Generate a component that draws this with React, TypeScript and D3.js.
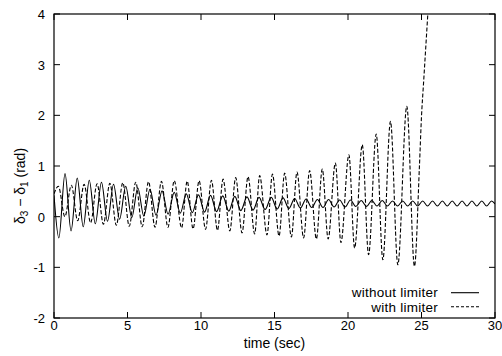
import React from "react";
import * as d3 from "d3";

const W = 502;
const H = 356;

const xTicks = [0, 5, 10, 15, 20, 25, 30];
const yTicks = [-2, -1, 0, 1, 2, 3, 4];

const seriesNames = ["without limiter", "with limiter"];

// "without limiter" (solid): start, peaks, troughs, end
const solidStart: [number, number] = [0, 0.42];
const solidEnd: [number, number] = [30, 0.25];
const solidPeakT = [0.75, 1.58, 2.40, 3.23, 4.05, 4.88, 5.70, 6.53, 7.35, 8.18, 9.00, 9.83, 10.65, 11.48, 12.30, 13.13, 13.95, 14.78, 15.58, 16.37, 17.15, 17.92, 18.68, 19.43, 20.17, 20.90, 21.62, 22.33, 23.03, 23.72, 24.40, 25.08, 25.75, 26.42, 27.09, 27.76, 28.43, 29.10, 29.77];
const solidPeakV = [0.85, 0.76, 0.72, 0.68, 0.64, 0.60, 0.57, 0.54, 0.51, 0.48, 0.45, 0.43, 0.42, 0.41, 0.40, 0.39, 0.38, 0.38, 0.37, 0.36, 0.35, 0.34, 0.34, 0.33, 0.33, 0.32, 0.32, 0.32, 0.31, 0.31, 0.31, 0.31, 0.31, 0.31, 0.31, 0.31, 0.31, 0.31, 0.31];
const solidTroughT = [0.33, 1.16, 1.99, 2.81, 3.64, 4.46, 5.29, 6.11, 6.94, 7.76, 8.59, 9.41, 10.24, 11.06, 11.89, 12.71, 13.54, 14.36, 15.18, 15.98, 16.76, 17.53, 18.30, 19.05, 19.80, 20.53, 21.26, 21.97, 22.68, 23.37, 24.06, 24.74, 25.41, 26.08, 26.75, 27.42, 28.09, 28.76, 29.43];
const solidTroughV = [-0.42, -0.28, -0.20, -0.14, -0.09, -0.05, -0.02, 0.01, 0.03, 0.05, 0.07, 0.08, 0.09, 0.10, 0.11, 0.12, 0.13, 0.14, 0.15, 0.16, 0.17, 0.18, 0.18, 0.19, 0.19, 0.20, 0.20, 0.21, 0.21, 0.21, 0.21, 0.21, 0.21, 0.21, 0.21, 0.21, 0.21, 0.21, 0.21];

// "with limiter" (dashed): start, peaks, troughs, final divergence
const dashStart: [number, number] = [0, 0.45];
const dashPeakT = [0.30, 1.18, 2.05, 2.93, 3.80, 4.68, 5.56, 6.43, 7.31, 8.18, 9.06, 9.87, 10.71, 11.50, 12.36, 13.20, 13.99, 14.86, 15.69, 16.53, 17.39, 18.25, 19.14, 20.06, 20.97, 21.92, 22.89, 24.00];
const dashPeakV = [0.60, 0.62, 0.64, 0.65, 0.66, 0.67, 0.68, 0.69, 0.70, 0.71, 0.70, 0.71, 0.72, 0.74, 0.77, 0.79, 0.81, 0.84, 0.86, 0.88, 0.91, 0.94, 1.06, 1.22, 1.42, 1.63, 1.88, 2.18];
const dashTroughT = [0.74, 1.61, 2.49, 3.36, 4.24, 5.12, 6.00, 6.87, 7.75, 8.68, 9.46, 10.31, 11.12, 11.96, 12.79, 13.65, 14.49, 15.31, 16.15, 16.98, 17.85, 18.65, 19.52, 20.45, 21.40, 22.37, 23.39, 24.52];
const dashTroughV = [0.00, -0.08, -0.12, -0.15, -0.17, -0.19, -0.20, -0.21, -0.21, -0.22, -0.24, -0.25, -0.27, -0.28, -0.32, -0.34, -0.36, -0.38, -0.40, -0.42, -0.44, -0.44, -0.51, -0.62, -0.75, -0.85, -0.95, -0.98];
const dashTailT = [24.86, 25.0, 25.14, 25.43, 25.6];
const dashTailV = [1.0, 1.98, 2.64, 4.0, 4.8];

function zip(t: number[], v: number[]): [number, number][] {
  return t.map((tt, i) => [tt, v[i]] as [number, number]);
}

const solidPts = [solidStart, ...zip(solidPeakT, solidPeakV), ...zip(solidTroughT, solidTroughV), solidEnd].sort((a, b) => a[0] - b[0]);
const dashPts = [dashStart, ...zip(dashPeakT, dashPeakV), ...zip(dashTroughT, dashTroughV), ...zip(dashTailT, dashTailV)].sort((a, b) => a[0] - b[0]);

const L = 54, R = 495, T = 14, B = 318;

export default function App() {
  const x = d3.scaleLinear().domain([0, 30]).range([L, R]);
  const y = d3.scaleLinear().domain([-2, 4]).range([B, T]);
  const line = d3
    .line<[number, number]>()
    .x((d) => x(d[0]))
    .y((d) => y(d[1]))
    .curve(d3.curveMonotoneX);
  const font = "'Liberation Sans', Arial, Helvetica, sans-serif";
  const tk = 6;
  return (
    <svg
      width={W}
      height={H}
      style={{ position: "absolute", left: 0, top: 0, background: "#fff" }}
      fontFamily={font}
      fontSize={13}
    >
      <rect x={0} y={0} width={W} height={H} fill="#fff" />
      <defs>
        <clipPath id="plot">
          <rect x={L} y={T} width={R - L} height={B - T} />
        </clipPath>
      </defs>
      {xTicks.map((t) => (
        <g key={"x" + t}>
          <line x1={x(t)} x2={x(t)} y1={B} y2={B - tk} stroke="#000" />
          <line x1={x(t)} x2={x(t)} y1={T} y2={T + tk} stroke="#000" />
          <text x={x(t)} y={330} textAnchor="middle" fill="#000">
            {t}
          </text>
        </g>
      ))}
      {yTicks.map((v) => (
        <g key={"y" + v}>
          <line x1={L} x2={L + tk} y1={y(v)} y2={y(v)} stroke="#000" />
          <line x1={R} x2={R - tk} y1={y(v)} y2={y(v)} stroke="#000" />
          <text x={45} y={y(v) + 5} textAnchor="end" fill="#000">
            {v}
          </text>
        </g>
      ))}
      <g clipPath="url(#plot)" fill="none">
        <path d={line(solidPts) || ""} stroke="#000" strokeWidth={1.1} />
        <path d={line(dashPts) || ""} stroke="#000" strokeWidth={1.1} strokeDasharray="4,2" />
      </g>
      <rect x={L} y={T} width={R - L} height={B - T} fill="none" stroke="#000" strokeWidth={1.2} />
      <text x={(L + R) / 2} y={348} textAnchor="middle" fill="#000" fontSize={14}>
        time (sec)
      </text>
      <text transform="translate(25,186) rotate(-90)" textAnchor="middle" fill="#000" fontSize={14}>
        δ<tspan fontSize={10} dy={3}>3</tspan>
        <tspan dy={-3}> − δ</tspan>
        <tspan fontSize={10} dy={3}>1</tspan>
        <tspan dy={-3}> (rad)</tspan>
      </text>
      <text x={438} y={297} textAnchor="end" fill="#000" fontSize={13.5} letterSpacing={0.25}>
        {seriesNames[0]}
      </text>
      <line x1={451} x2={479} y1={292.7} y2={292.7} stroke="#000" strokeWidth={1.1} />
      <text x={438} y={311.5} textAnchor="end" fill="#000" fontSize={13.5} letterSpacing={0.25}>
        {seriesNames[1]}
      </text>
      <line x1={451} x2={479} y1={306.7} y2={306.7} stroke="#000" strokeWidth={1.1} strokeDasharray="3,2" />
    </svg>
  );
}
